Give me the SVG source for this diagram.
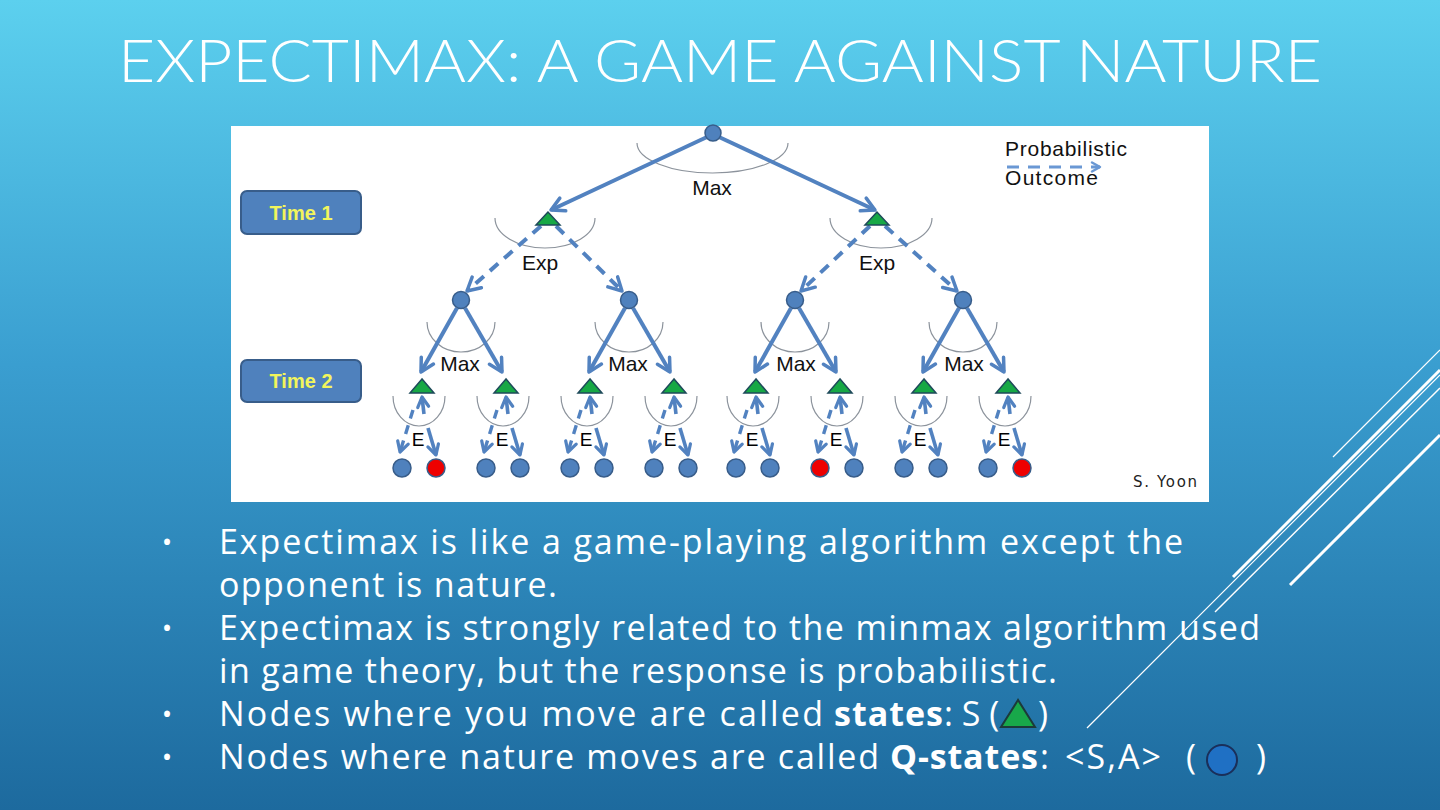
<svg xmlns="http://www.w3.org/2000/svg" width="1440" height="810" viewBox="0 0 1440 810">
<defs>
<linearGradient id="bg" x1="0" y1="0" x2="0" y2="1">
<stop offset="0" stop-color="#5CD0EE"/>
<stop offset="0.45" stop-color="#3A9ED0"/>
<stop offset="1" stop-color="#1D6A9E"/>
</linearGradient>
<marker id="ah" markerUnits="userSpaceOnUse" markerWidth="24" markerHeight="24" refX="14" refY="8" orient="auto" overflow="visible">
<path d="M1,1 L14,8 L1,15" fill="none" stroke="#5282C0" stroke-width="3.5" stroke-linecap="round" stroke-linejoin="round"/>
</marker>
<marker id="ahs" markerUnits="userSpaceOnUse" markerWidth="20" markerHeight="20" refX="11" refY="6" orient="auto" overflow="visible">
<path d="M1,0.5 L11,6 L1,11.5" fill="none" stroke="#5282C0" stroke-width="3.2" stroke-linecap="round" stroke-linejoin="round"/>
</marker>
<marker id="ahl" markerUnits="userSpaceOnUse" markerWidth="16" markerHeight="16" refX="9" refY="5" orient="auto" overflow="visible">
<path d="M1,0.5 L9,5 L1,9.5" fill="none" stroke="#6A98D4" stroke-width="2.5" stroke-linecap="round" stroke-linejoin="round"/>
</marker>
</defs>
<style>
.title{font-family:Lato,"Open Sans","Liberation Sans",sans-serif;font-weight:300;font-size:60px;fill:#FFFFFF}
.body{font-family:"Open Sans",Lato,"Liberation Sans",sans-serif;font-size:34px;fill:#FFFFFF}
.bul{font-size:28px}
.bold{font-weight:bold}
.lbl{font-family:"Liberation Sans",Arial,sans-serif;font-size:21px;fill:#111111}
.elbl{font-family:"Liberation Sans",Arial,sans-serif;font-size:19px;fill:#000000}
.q{fill:#4F81BD;stroke:#385D8A;stroke-width:1.5}
.red{fill:#EE0000;stroke:#385D8A;stroke-width:1.5}
.tri{fill:#17A845;stroke:#1E4A5A;stroke-width:1.5}
.arc{fill:none;stroke:#8C939C;stroke-width:1.2}
.sol{fill:none;stroke:#5282C0;stroke-width:4}
.sol2{fill:none;stroke:#5282C0;stroke-width:3.6}
.dash{fill:none;stroke:#5282C0;stroke-width:4;stroke-dasharray:11 8}
.dash2{fill:none;stroke:#5282C0;stroke-width:3.4;stroke-dasharray:9 7}
.deco{stroke:#FFFFFF;fill:none}
.tbox{fill:#4F81BD;stroke:#385D8A;stroke-width:2}
.ttxt{font-family:"Liberation Sans",Arial,sans-serif;font-weight:bold;font-size:20px;fill:#F2F55C}
</style>
<rect x="0" y="0" width="1440" height="810" fill="url(#bg)"/>
<g id="decoration">
<line class="deco" x1="1333" y1="457" x2="1440" y2="350" stroke-width="1.2"/>
<line class="deco" x1="1233" y1="577" x2="1440" y2="370" stroke-width="3"/>
<line class="deco" x1="1087" y1="728" x2="1440" y2="375" stroke-width="1.2"/>
<line class="deco" x1="1215" y1="612" x2="1440" y2="388" stroke-width="1.5"/>
<line class="deco" x1="1290" y1="585" x2="1440" y2="435" stroke-width="3"/>
</g>
<text class="title" x="118" y="82" textLength="1204" lengthAdjust="spacingAndGlyphs">EXPECTIMAX: A GAME AGAINST NATURE</text>
<rect id="figure" x="231" y="126" width="978" height="376" fill="#FFFFFF"/>
<g id="arcs">
<path class="arc" d="M637,143 A75.5 30 0 0 0 788,143"/>
<path class="arc" d="M495,218 A50 30 0 0 0 595,218"/>
<path class="arc" d="M830,218 A51 30 0 0 0 932,218"/>
<path class="arc" d="M427,322 A34 30 0 0 0 495,322"/>
<path class="arc" d="M595,322 A34 30 0 0 0 663,322"/>
<path class="arc" d="M761,322 A34 30 0 0 0 829,322"/>
<path class="arc" d="M929,322 A34 30 0 0 0 997,322"/>
<path class="arc" d="M393,396 A26 30 0 0 0 445,396"/>
<path class="arc" d="M477,396 A26 30 0 0 0 529,396"/>
<path class="arc" d="M561,396 A26 30 0 0 0 613,396"/>
<path class="arc" d="M645,396 A26 30 0 0 0 697,396"/>
<path class="arc" d="M727,396 A26 30 0 0 0 779,396"/>
<path class="arc" d="M811,396 A26 30 0 0 0 863,396"/>
<path class="arc" d="M895,396 A26 30 0 0 0 947,396"/>
<path class="arc" d="M979,396 A26 30 0 0 0 1031,396"/>
</g>
<g id="connectors">
<line class="sol" x1="707" y1="137" x2="551" y2="210" marker-end="url(#ah)"/>
<line class="sol" x1="719" y1="137" x2="875" y2="210" marker-end="url(#ah)"/>
<line class="dash" x1="541" y1="226" x2="467" y2="291" marker-end="url(#ah)"/>
<line class="dash" x1="556" y1="226" x2="622" y2="291" marker-end="url(#ah)"/>
<line class="dash" x1="870" y1="226" x2="801" y2="291" marker-end="url(#ah)"/>
<line class="dash" x1="885" y1="226" x2="957" y2="291" marker-end="url(#ah)"/>
<line class="sol" x1="457" y1="308" x2="421" y2="372" marker-end="url(#ah)"/>
<line class="sol" x1="465" y1="308" x2="502" y2="372" marker-end="url(#ah)"/>
<line class="sol" x1="625" y1="308" x2="589" y2="372" marker-end="url(#ah)"/>
<line class="sol" x1="633" y1="308" x2="670" y2="372" marker-end="url(#ah)"/>
<line class="sol" x1="791" y1="308" x2="755" y2="372" marker-end="url(#ah)"/>
<line class="sol" x1="799" y1="308" x2="836" y2="372" marker-end="url(#ah)"/>
<line class="sol" x1="959" y1="308" x2="923" y2="372" marker-end="url(#ah)"/>
<line class="sol" x1="967" y1="308" x2="1004" y2="372" marker-end="url(#ah)"/>
<g id="e-arrows">
<line class="sol2" x1="424" y1="414" x2="422" y2="397" marker-end="url(#ahs)"/>
<line class="dash2" x1="413" y1="410" x2="400" y2="452" marker-end="url(#ahs)"/>
<line class="sol2" x1="428" y1="428" x2="436" y2="455" marker-end="url(#ahs)"/>
<line class="sol2" x1="508" y1="414" x2="506" y2="397" marker-end="url(#ahs)"/>
<line class="dash2" x1="497" y1="410" x2="484" y2="452" marker-end="url(#ahs)"/>
<line class="sol2" x1="512" y1="428" x2="520" y2="455" marker-end="url(#ahs)"/>
<line class="sol2" x1="592" y1="414" x2="590" y2="397" marker-end="url(#ahs)"/>
<line class="dash2" x1="581" y1="410" x2="568" y2="452" marker-end="url(#ahs)"/>
<line class="sol2" x1="596" y1="428" x2="604" y2="455" marker-end="url(#ahs)"/>
<line class="sol2" x1="676" y1="414" x2="674" y2="397" marker-end="url(#ahs)"/>
<line class="dash2" x1="665" y1="410" x2="652" y2="452" marker-end="url(#ahs)"/>
<line class="sol2" x1="680" y1="428" x2="688" y2="455" marker-end="url(#ahs)"/>
<line class="sol2" x1="758" y1="414" x2="756" y2="397" marker-end="url(#ahs)"/>
<line class="dash2" x1="747" y1="410" x2="734" y2="452" marker-end="url(#ahs)"/>
<line class="sol2" x1="762" y1="428" x2="770" y2="455" marker-end="url(#ahs)"/>
<line class="sol2" x1="842" y1="414" x2="840" y2="397" marker-end="url(#ahs)"/>
<line class="dash2" x1="831" y1="410" x2="818" y2="452" marker-end="url(#ahs)"/>
<line class="sol2" x1="846" y1="428" x2="854" y2="455" marker-end="url(#ahs)"/>
<line class="sol2" x1="926" y1="414" x2="924" y2="397" marker-end="url(#ahs)"/>
<line class="dash2" x1="915" y1="410" x2="902" y2="452" marker-end="url(#ahs)"/>
<line class="sol2" x1="930" y1="428" x2="938" y2="455" marker-end="url(#ahs)"/>
<line class="sol2" x1="1010" y1="414" x2="1008" y2="397" marker-end="url(#ahs)"/>
<line class="dash2" x1="999" y1="410" x2="986" y2="452" marker-end="url(#ahs)"/>
<line class="sol2" x1="1014" y1="428" x2="1022" y2="455" marker-end="url(#ahs)"/>
</g>
</g>
<g id="root"><circle class="q" cx="713" cy="133" r="8"/></g>
<g id="state-1L"><polygon class="tri" points="548,212 536,225 560,225"/></g>
<g id="state-1R"><polygon class="tri" points="877,212 865,225 889,225"/></g>
<g id="q-1"><circle class="q" cx="461" cy="300" r="8.5"/></g>
<g id="q-2"><circle class="q" cx="629" cy="300" r="8.5"/></g>
<g id="q-3"><circle class="q" cx="795" cy="300" r="8.5"/></g>
<g id="q-4"><circle class="q" cx="963" cy="300" r="8.5"/></g>
<g id="state-2a"><polygon class="tri" points="422,379 410,393 434,393"/></g>
<g id="state-2b"><polygon class="tri" points="506,379 494,393 518,393"/></g>
<g id="state-2c"><polygon class="tri" points="590,379 578,393 602,393"/></g>
<g id="state-2d"><polygon class="tri" points="674,379 662,393 686,393"/></g>
<g id="state-2e"><polygon class="tri" points="756,379 744,393 768,393"/></g>
<g id="state-2f"><polygon class="tri" points="840,379 828,393 852,393"/></g>
<g id="state-2g"><polygon class="tri" points="924,379 912,393 936,393"/></g>
<g id="state-2h"><polygon class="tri" points="1008,379 996,393 1020,393"/></g>
<g id="leaves">
<circle class="q" cx="402" cy="468" r="9"/><circle class="red" cx="436" cy="468" r="9"/>
<circle class="q" cx="486" cy="468" r="9"/><circle class="q" cx="520" cy="468" r="9"/>
<circle class="q" cx="570" cy="468" r="9"/><circle class="q" cx="604" cy="468" r="9"/>
<circle class="q" cx="654" cy="468" r="9"/><circle class="q" cx="688" cy="468" r="9"/>
<circle class="q" cx="736" cy="468" r="9"/><circle class="q" cx="770" cy="468" r="9"/>
<circle class="red" cx="820" cy="468" r="9"/><circle class="q" cx="854" cy="468" r="9"/>
<circle class="q" cx="904" cy="468" r="9"/><circle class="q" cx="938" cy="468" r="9"/>
<circle class="q" cx="988" cy="468" r="9"/><circle class="red" cx="1022" cy="468" r="9"/>
</g>
<g id="tree-labels" text-anchor="middle">
<text class="lbl" x="712" y="195">Max</text>
<text class="lbl" x="540" y="270">Exp</text>
<text class="lbl" x="877" y="270">Exp</text>
<text class="lbl" x="460" y="371">Max</text>
<text class="lbl" x="628" y="371">Max</text>
<text class="lbl" x="796" y="371">Max</text>
<text class="lbl" x="964" y="371">Max</text>
<text class="elbl" x="418" y="446">E</text>
<text class="elbl" x="502" y="446">E</text>
<text class="elbl" x="586" y="446">E</text>
<text class="elbl" x="670" y="446">E</text>
<text class="elbl" x="752" y="446">E</text>
<text class="elbl" x="836" y="446">E</text>
<text class="elbl" x="920" y="446">E</text>
<text class="elbl" x="1004" y="446">E</text>
</g>
<g id="time1">
<rect class="tbox" x="241" y="191" width="120" height="43" rx="6"/>
<text class="ttxt" x="301" y="220" text-anchor="middle">Time 1</text>
</g>
<g id="time2">
<rect class="tbox" x="241" y="360" width="120" height="42" rx="6"/>
<text class="ttxt" x="301" y="388" text-anchor="middle">Time 2</text>
</g>
<g id="legend">
<text class="lbl" x="1005" y="156" font-size="20" textLength="122">Probabilistic</text>
<line x1="1007" y1="167" x2="1100" y2="167" stroke="#6A98D4" stroke-width="2.8" stroke-dasharray="12 9" marker-end="url(#ahl)"/>
<text class="lbl" x="1005" y="185" font-size="20" textLength="93">Outcome</text>
</g>
<text x="1133" y="487" font-family="DejaVu Sans,sans-serif" font-size="15" fill="#222222" textLength="64">S. Yoon</text>
<g id="bullets" class="body">
<text class="bul" x="167" y="552" text-anchor="middle">•</text>
<text x="219" y="554" textLength="964">Expectimax is like a game-playing algorithm except the</text>
<text x="219" y="597" textLength="338">opponent is nature.</text>
<text class="bul" x="167" y="638" text-anchor="middle">•</text>
<text x="219" y="640" textLength="1041">Expectimax is strongly related to the minmax algorithm used</text>
<text x="219" y="683" textLength="838">in game theory, but the response is probabilistic.</text>
<text class="bul" x="167" y="724" text-anchor="middle">•</text>
<text x="219" y="726" textLength="604">Nodes where you move are called</text>
<text x="834" y="726" class="bold" textLength="109">states</text>
<text x="944" y="726">: S (</text>
<polygon points="1018,700 1001,727 1035,727" fill="#18A84A" stroke="#1C3A3A" stroke-width="2"/>
<text x="1038" y="726">)</text>
<text class="bul" x="167" y="767" text-anchor="middle">•</text>
<text x="219" y="769" textLength="660">Nodes where nature moves are called</text>
<text x="890" y="769" class="bold" textLength="148">Q-states</text>
<text x="1040" y="769">:</text>
<text x="1065" y="769" textLength="96">&lt;S,A&gt;</text>
<text x="1186" y="769">(</text>
<circle cx="1222" cy="760" r="15" fill="#1F70C4" stroke="#1A2F5A" stroke-width="2"/>
<text x="1256" y="769">)</text>
</g>
</svg>
